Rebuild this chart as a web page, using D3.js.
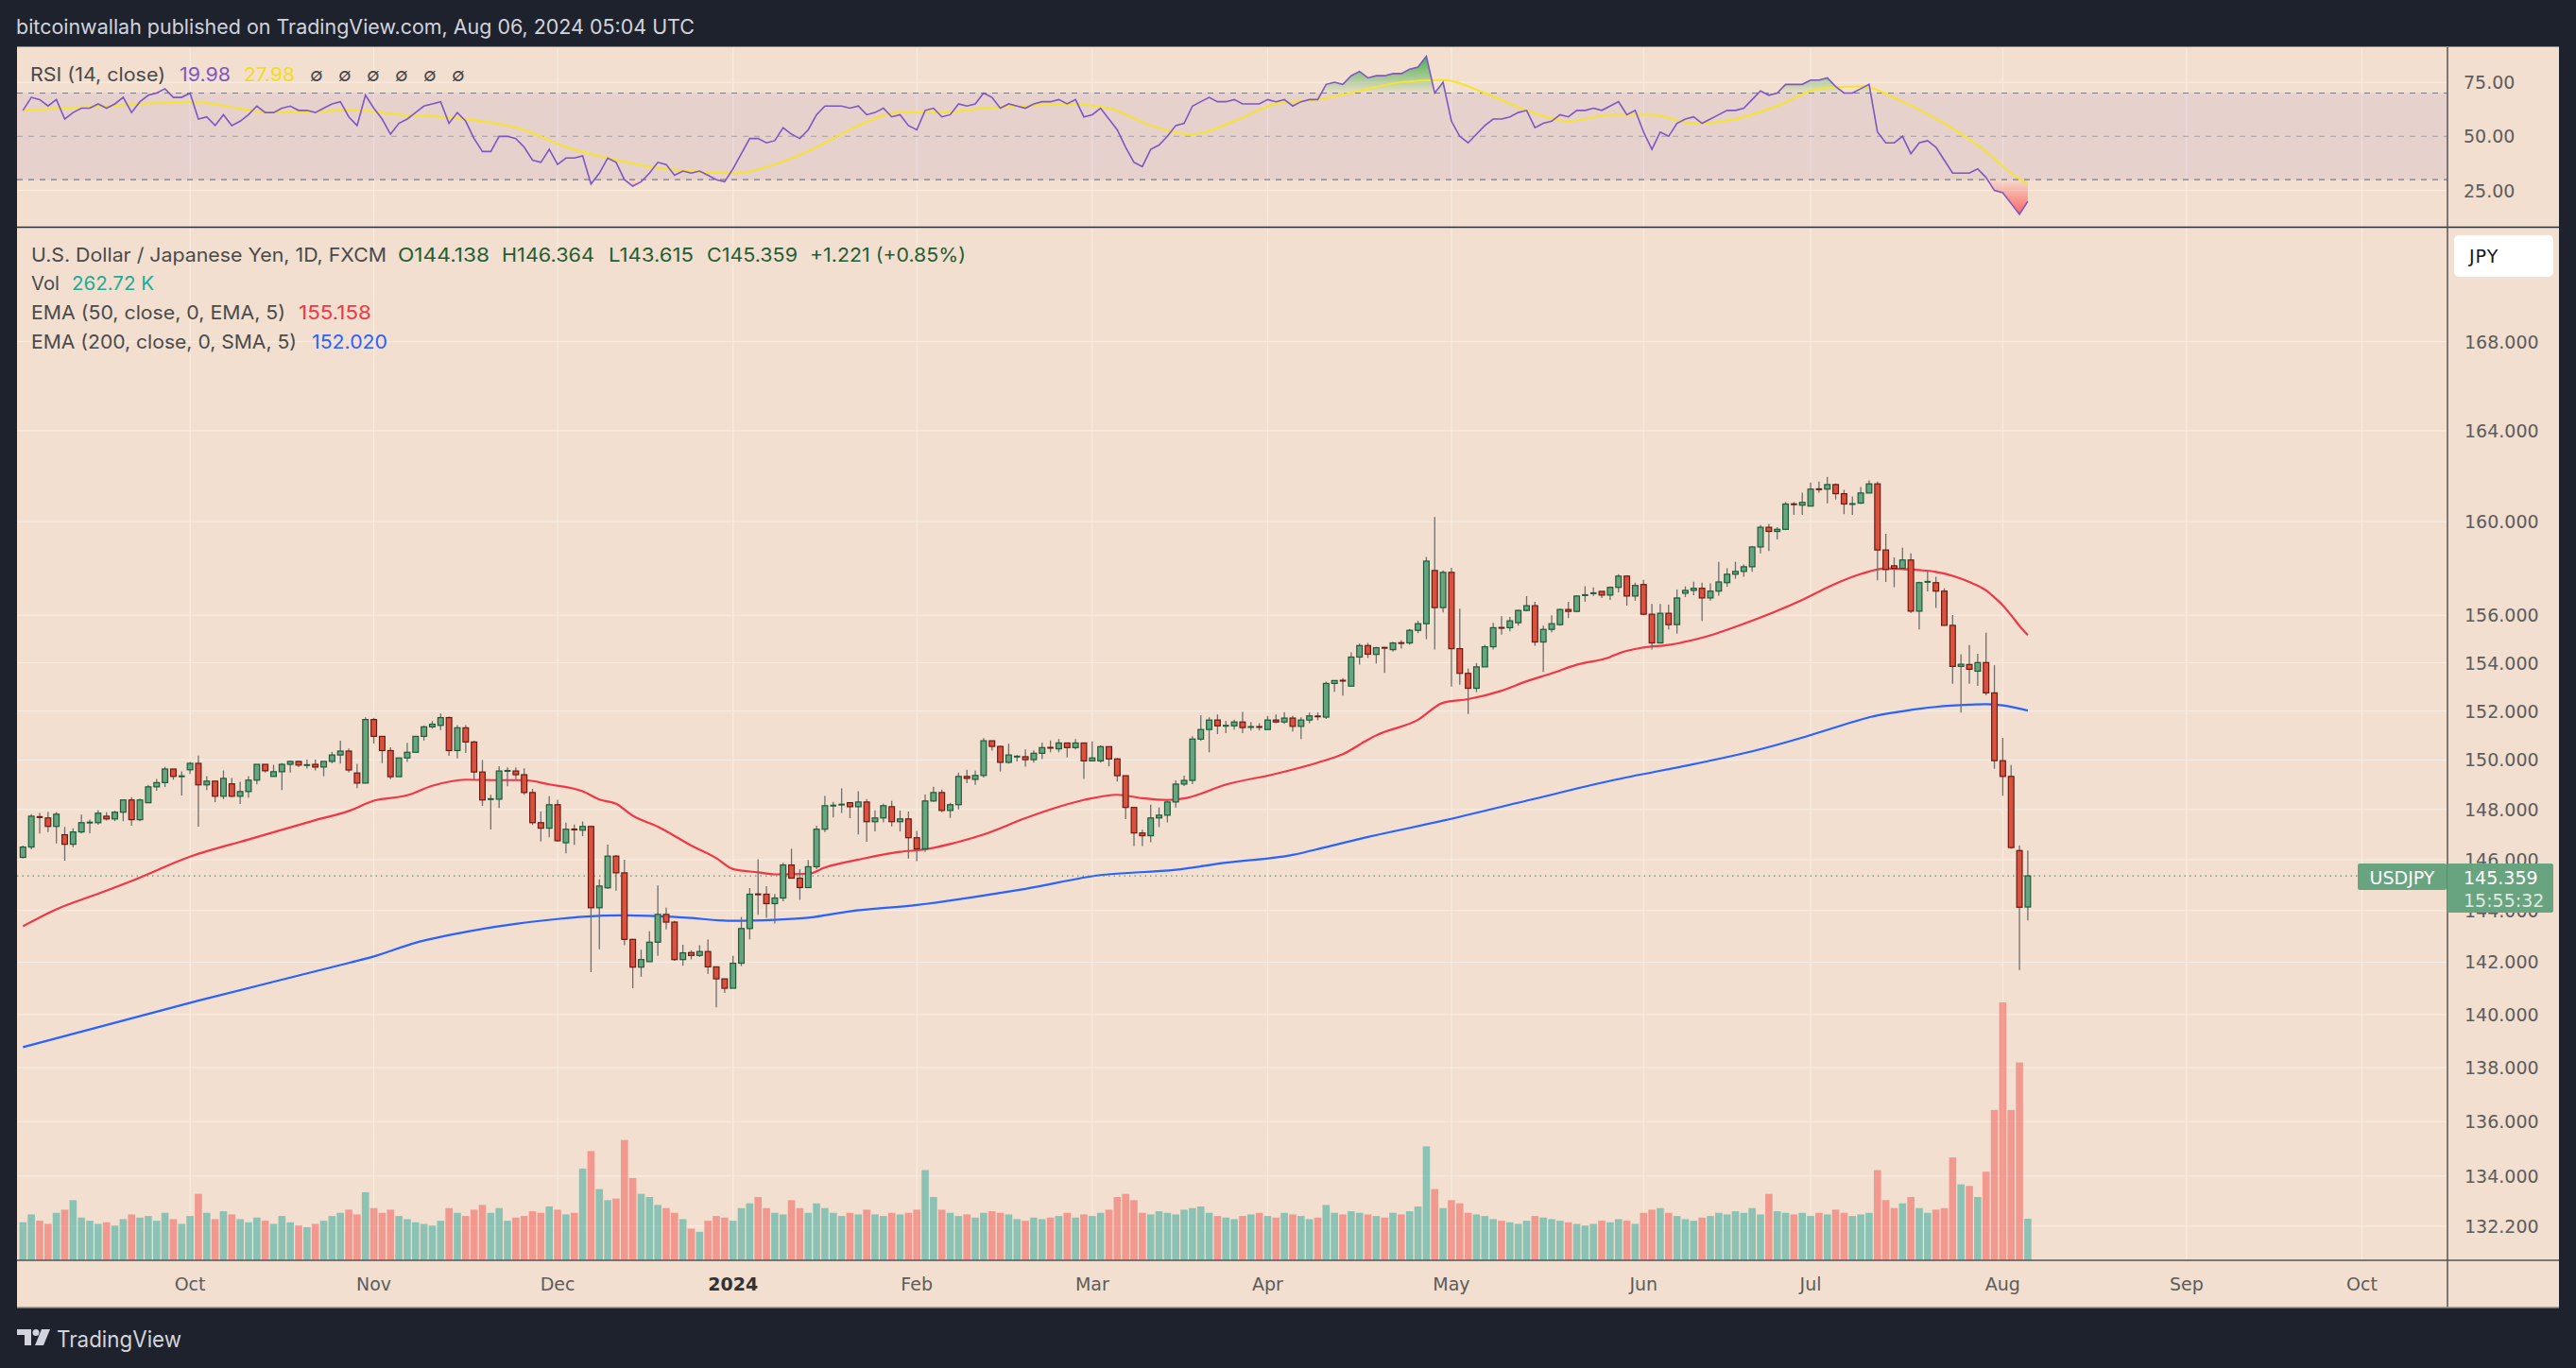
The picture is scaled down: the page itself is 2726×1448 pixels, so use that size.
<!DOCTYPE html>
<html><head><meta charset="utf-8">
<script src="https://cdn.jsdelivr.net/npm/d3@7"></script>
<style>html,body{margin:0;padding:0;background:#1e222d;}svg{display:block;}</style>
</head><body>
<svg id="chart" width="2726" height="1448"></svg>
<script>
// ---------------- DATA ----------------
const opens = [
146.09,146.50,147.73,147.66,147.32,146.99,146.61,147.10,147.47,147.47,
147.73,147.62,147.89,148.38,147.59,148.27,148.91,149.08,149.63,149.33,
149.60,149.86,148.99,149.14,148.53,149.03,148.53,148.72,149.18,149.82,
149.33,149.52,149.82,149.94,149.78,149.82,149.71,149.94,150.20,150.36,
149.47,149.06,151.65,150.96,150.38,149.32,150.08,150.31,150.96,151.35,
151.41,151.73,150.38,151.31,150.73,149.51,148.41,148.41,149.55,149.55,
149.40,148.68,147.47,147.25,148.19,146.67,147.21,147.17,147.32,144.11,
144.89,146.14,145.48,142.88,141.81,142.02,142.77,143.85,143.55,142.10,
142.37,142.26,142.41,141.82,141.36,141.00,141.96,143.30,144.64,144.64,
144.27,144.49,145.79,145.27,144.90,145.72,147.21,148.15,148.19,148.27,
148.11,148.30,147.51,147.66,148.11,147.51,147.62,146.87,146.43,148.34,
148.68,147.96,148.19,149.33,149.21,149.37,150.78,150.55,149.90,150.13,
150.13,150.01,150.27,150.50,150.45,150.69,150.50,150.69,149.96,149.96,
150.54,150.04,149.36,148.08,147.06,146.95,147.66,147.77,148.30,149.02,
149.17,150.85,151.24,151.63,151.39,151.39,151.55,151.34,151.35,151.24,
151.63,151.55,151.71,151.37,151.63,151.79,151.75,153.14,153.26,153.03,
154.24,154.72,154.35,154.63,154.55,154.83,154.83,155.36,155.64,157.90,
156.32,157.82,154.59,153.56,152.94,153.83,154.67,155.47,155.47,155.68,
156.20,156.40,154.87,155.40,155.60,156.24,156.16,156.81,156.89,157.01,
156.85,157.18,157.66,156.81,157.30,156.04,154.83,156.08,155.60,156.93,
157.05,157.14,156.73,157.02,157.38,157.74,157.86,158.06,158.91,159.76,
159.58,159.67,160.77,160.72,160.68,161.42,161.42,161.62,161.22,160.73,
160.81,161.25,161.65,158.78,158.10,157.99,158.35,156.17,157.41,157.38,
157.02,155.57,153.85,153.93,153.65,154.01,152.75,149.97,149.33,146.36,
144.138];
const highs = [
146.56,147.81,147.86,147.90,147.90,147.30,147.25,147.79,147.59,147.97,
147.89,147.94,148.38,148.49,148.44,148.99,149.23,149.72,149.63,149.53,
149.92,150.18,149.34,149.14,149.57,149.27,149.11,149.34,149.82,149.82,
149.80,149.87,149.97,149.97,150.01,150.01,149.94,150.33,150.78,150.47,
149.84,151.74,151.72,150.96,150.51,150.08,150.70,150.96,151.41,151.59,
151.90,151.77,151.42,151.42,150.78,150.00,148.59,149.74,149.70,149.70,
149.66,148.83,147.92,148.53,148.39,147.47,147.40,147.52,147.32,145.22,
146.60,146.18,146.00,142.90,142.48,143.19,144.98,144.11,143.60,142.67,
142.46,142.65,142.87,141.82,141.36,142.24,143.75,144.88,146.02,144.95,
144.65,145.88,146.43,145.62,145.99,147.35,148.54,148.30,148.85,148.30,
148.73,148.42,147.96,148.23,148.34,147.96,147.92,147.14,148.60,148.91,
148.80,148.27,149.48,149.60,149.56,150.89,150.78,150.59,150.66,150.20,
150.43,150.39,150.71,150.79,150.85,150.69,150.85,150.69,150.75,150.59,
150.54,150.08,149.36,148.08,147.19,148.19,148.08,148.38,149.17,149.36,
150.97,151.83,151.74,151.86,151.60,151.64,151.97,151.55,151.50,151.80,
151.86,151.96,151.80,151.74,151.94,151.94,153.22,153.26,153.36,154.44,
154.80,154.83,154.67,154.67,154.87,154.94,155.42,155.76,158.48,160.20,
157.90,158.02,156.28,153.76,153.99,154.75,155.68,155.96,155.93,156.24,
156.81,156.57,155.56,156.00,156.28,156.57,156.85,157.23,157.18,157.01,
157.22,157.74,157.70,157.38,157.50,156.48,156.48,156.45,157.09,157.22,
157.42,157.38,157.35,158.27,157.99,158.27,158.16,158.95,159.86,159.91,
159.76,160.86,160.86,161.26,161.71,161.75,161.96,161.67,161.39,161.10,
161.51,161.80,161.75,159.48,158.46,158.88,158.63,157.42,157.91,157.63,
157.14,156.01,154.36,154.74,154.38,155.26,153.90,150.90,149.79,146.56,
146.364];
const lows = [
146.05,146.41,147.04,147.09,146.64,145.96,146.49,147.04,147.05,147.39,
147.56,147.53,147.53,147.35,147.53,148.27,148.75,148.90,149.20,148.56,
149.43,147.31,148.78,148.29,148.41,148.49,148.22,148.48,149.01,149.49,
149.33,148.78,149.49,149.71,149.65,149.57,149.34,149.86,149.85,149.50,
148.86,149.06,150.67,149.87,149.22,149.32,149.92,150.31,150.79,151.27,
151.22,150.17,150.06,150.28,149.22,148.14,147.20,148.06,148.93,149.22,
148.59,147.38,146.72,146.89,146.72,146.25,146.59,146.93,141.62,142.50,
144.84,144.78,142.65,141.00,141.44,142.02,142.24,143.27,142.05,141.86,
142.11,142.20,141.55,140.27,140.82,141.00,141.85,142.88,143.84,143.72,
143.50,144.36,145.27,144.42,144.90,145.62,147.09,147.68,147.86,147.65,
147.00,146.71,147.12,147.48,147.32,147.12,146.04,145.94,146.31,148.30,
147.89,147.66,148.00,149.06,148.99,149.29,150.38,149.53,149.85,149.94,
149.73,149.89,150.03,150.31,150.31,150.10,150.43,149.23,149.96,149.89,
149.74,149.12,147.61,146.54,146.54,146.69,147.29,147.48,148.08,148.94,
149.02,150.77,150.31,151.05,151.09,151.24,151.09,151.20,151.20,151.24,
151.50,151.47,151.16,150.85,151.50,151.62,151.67,152.79,152.64,153.03,
153.92,154.20,153.97,153.58,154.47,154.59,154.75,155.24,154.99,154.55,
156.12,153.01,153.09,151.88,152.78,153.83,154.55,155.18,155.32,155.56,
156.16,154.71,153.62,155.28,155.56,155.88,156.12,156.57,156.81,156.73,
156.65,156.97,156.40,156.61,156.00,154.55,154.83,155.40,155.22,156.77,
156.85,155.76,156.62,156.83,157.21,157.55,157.63,157.84,158.63,158.73,
159.23,159.67,160.30,160.30,160.68,161.26,160.80,160.97,160.33,160.30,
160.77,161.25,157.48,157.41,157.19,157.99,156.10,155.40,157.01,156.31,
155.57,153.13,151.94,153.13,153.04,152.65,149.64,148.55,146.43,141.70,
143.615];
const closes = [
146.50,147.73,147.66,147.32,147.81,146.61,147.10,147.47,147.48,147.85,
147.62,147.89,148.38,147.59,148.38,148.91,149.08,149.63,149.33,149.34,
149.86,148.99,149.14,148.53,149.25,148.53,148.72,149.18,149.82,149.56,
149.52,149.82,149.94,149.79,149.80,149.71,149.94,150.20,150.36,149.59,
149.06,151.65,150.96,150.38,149.32,150.08,150.31,150.96,151.35,151.46,
151.73,150.38,151.31,150.73,149.51,148.38,148.42,149.55,149.56,149.40,
148.68,147.47,147.25,148.19,146.75,147.21,147.19,147.32,144.11,144.96,
146.14,145.48,142.88,141.81,142.10,142.77,143.85,143.55,142.10,142.36,
142.26,142.41,141.82,141.36,141.00,141.96,143.30,144.64,144.63,144.27,
144.49,145.79,145.27,144.90,145.72,147.21,148.15,148.16,148.20,148.11,
148.30,147.51,147.66,148.15,147.51,147.62,146.87,146.43,148.34,148.68,
147.96,148.19,149.33,149.25,149.37,150.78,150.55,149.90,150.20,150.14,
150.01,150.27,150.50,150.49,150.69,150.50,150.69,149.96,150.08,150.54,
150.04,149.36,148.08,147.06,146.95,147.66,147.77,148.30,149.02,149.17,
150.85,151.24,151.63,151.39,151.40,151.55,151.32,151.35,151.34,151.63,
151.55,151.71,151.37,151.63,151.80,151.77,153.14,153.26,153.25,154.24,
154.72,154.36,154.63,154.62,154.83,154.82,155.36,155.64,158.30,156.32,
157.82,154.59,153.56,152.94,153.83,154.67,155.47,155.46,155.76,156.20,
156.40,154.87,155.40,155.64,156.24,156.16,156.81,156.89,156.97,156.85,
157.18,157.66,156.81,157.26,156.04,154.83,156.08,155.60,156.73,157.05,
157.14,156.73,157.02,157.41,157.74,157.86,158.06,158.91,159.76,159.58,
159.67,160.77,160.75,160.84,161.42,161.41,161.62,161.22,160.77,160.81,
161.25,161.65,158.78,157.94,157.99,158.35,156.17,157.38,157.42,157.02,
155.57,153.85,153.94,153.73,154.01,152.75,149.97,149.33,146.48,144.13,
145.359];
// volume in thousands
const volumes = [
240,290,250,230,300,320,380,270,250,230,
240,220,260,290,270,280,250,300,260,230,
280,420,300,260,310,290,260,240,270,250,
230,280,240,220,210,230,250,280,300,320,
290,430,330,300,320,280,260,240,230,220,
250,330,300,280,320,350,300,330,250,270,
280,310,300,340,320,290,300,580,690,450,
380,390,760,520,420,400,350,330,300,260,
200,180,250,280,270,250,330,360,400,330,
300,290,380,330,300,360,330,300,280,300,
290,320,290,280,300,290,300,320,570,400,
320,300,280,290,270,300,310,300,290,260,
250,270,260,270,280,300,270,290,280,300,
320,400,420,380,300,290,310,300,290,320,
330,340,300,280,270,260,280,290,300,280,
270,300,290,280,260,270,350,300,290,310,
300,290,280,270,300,290,310,340,720,450,
330,380,360,300,290,280,260,250,240,230,
250,280,270,260,250,240,230,220,230,250,
240,260,250,230,300,320,330,300,280,260,
250,270,280,300,290,310,300,330,290,420,
310,300,290,300,280,300,290,320,300,280,
290,300,570,380,330,360,400,330,300,320,
330,650,480,470,400,560,950,1630,950,1250,
262.72];
// EMA lines sampled at bar indices
const ema50Idx = [0,4,9,13,20,27,35,39,42,46,49,53,57,60,63,67,69,71,73,76,80,83,85,88,90,94,96,100,105,108,111,115,120,123,127,131,134,137,139,144,150,155,158,161,162,167,170,173,177,180,183,186,190,191,194,197,201,206,213,217,220,223,225,229,233,235,236,237,238,239,240];
const ema50Val = [143.39,144.05,144.66,145.16,146.12,146.80,147.57,147.94,148.35,148.57,148.95,149.20,149.18,149.18,149.01,148.73,148.40,148.23,147.75,147.31,146.56,146.06,145.63,145.50,145.42,145.44,145.69,146.00,146.31,146.41,146.62,147.00,147.65,148.00,148.38,148.59,148.45,148.38,148.44,149.00,149.44,149.89,150.23,150.82,151.00,151.64,152.34,152.49,152.84,153.23,153.56,153.92,154.24,154.39,154.64,154.75,155.05,155.64,156.65,157.34,157.75,157.99,157.96,157.84,157.41,157.05,156.75,156.42,156.00,155.55,155.158];
const ema200Idx = [0,21,39,42,47,53,59,64,67,72,79,85,90,94,99,107,115,120,129,138,144,152,156,161,170,180,190,201,207,213,218,221,225,229,233,235,237,240];
const ema200Val = [138.77,140.53,141.97,142.22,142.75,143.17,143.48,143.67,143.76,143.81,143.73,143.60,143.64,143.72,143.97,144.22,144.59,144.85,145.39,145.60,145.88,146.19,146.50,146.90,147.55,148.35,149.15,149.90,150.35,150.91,151.44,151.74,151.99,152.17,152.26,152.28,152.23,152.020];
// RSI (14), one value per bar
const rsiVal = [
62,68,67,64,67,58,61,63,63,65,
63,65,68,61,66,69,70,72,68,68,
70,58,59,55,60,55,57,60,64,61,
61,63,64,62,62,61,63,65,66,59,
55,69,63,58,51,56,58,61,64,65,
66,56,61,57,49,43,43,50,50,49,
45,39,38,44,37,40,40,41,28,33,
40,38,30,27,29,33,38,37,32,34,
33,34,32,30,29,35,42,49,49,47,
48,54,51,49,53,60,64,64,64,63,
64,60,61,63,59,60,55,53,62,63,
59,60,65,64,65,70,68,63,65,64,
63,65,66,66,67,65,67,59,60,63,
58,53,45,38,36,44,46,50,55,56,
64,66,68,66,66,67,65,65,65,67,
66,67,64,66,67,67,74,75,74,78,
80,77,78,78,79,79,81,82,87,70,
75,57,50,47,51,55,58,58,59,61,
62,54,56,57,60,59,62,62,63,62,
64,66,60,62,52,44,52,50,56,58,
59,56,58,60,62,62,63,67,71,69,
70,74,74,74,76,76,77,73,70,70,
72,74,52,47,47,50,42,47,48,45,
39,33,33,33,35,31,25,24,19,14,
19.98];
// RSI-based moving average, sampled at bar indices
const rsiMaIdx = [0,10,20,30,40,45,50,55,60,65,70,75,80,85,90,95,100,105,110,115,120,125,130,135,140,145,150,155,160,165,170,175,180,185,190,195,200,205,210,215,220,225,230,235,238,240];
const rsiMaVal = [62,64,66,61,62,60,59,57,53,45,40,36,34,33,37,45,55,61,61,63,64,65,63,55,51,57,65,67,71,75,76,70,62,57,60,60,56,58,64,72,73,66,56,43,33,27.98];
const priceTicks = [168,164,160,156,154,152,150,148,146,144,142,140,138,136,134,132.2];
const rsiTicks = [75,50,25];
const rsiLevels = [70,50,30];
const monthNames = ["Jan","Feb","Mar","Apr","May","Jun","Jul","Aug","Sep","Oct","Nov","Dec"];
const holidays = ["2024-01-01"];
const lastPrice = 145.359;

// ---------------- LAYOUT ----------------
const W = 2726, H = 1448;
const paneL = 18, paneR = 2590, axisR = 2708, paneTop = 49, rsiBottom = 240,
      priceTop = 241, priceBottom = 1334, timeBottom = 1384;
const n = closes.length;

const svg = d3.select("#chart");
svg.append("rect").attr("width", W).attr("height", H).attr("fill", "#1e222d");
svg.append("rect").attr("x", paneL).attr("y", paneTop).attr("width", axisR - paneL)
   .attr("height", timeBottom - paneTop).attr("fill", "#f2dfcf");

const days = [];
{
  let d = new Date(Date.UTC(2023, 8, 4));
  while (days.length < 300) {
    const wd = d.getUTCDay(), iso = d.toISOString().slice(0, 10);
    if (wd !== 0 && wd !== 6 && !holidays.includes(iso)) days.push(new Date(d));
    d.setUTCDate(d.getUTCDate() + 1);
  }
}
const x = d3.scaleLinear().domain([0, 240]).range([24.3, 24.3 + 8.84 * 240]);
const y = d3.scaleLog().domain([130.98, 173.27]).range([priceBottom, priceTop]);
const yr = d3.scaleLinear().domain([8.25, 91.6]).range([rsiBottom, paneTop]);
const yv = d3.scaleLinear().domain([0, 1000]).range([priceBottom, priceBottom - 167.5]);

const monthTicks = [];
for (let i = 1; i < days.length; i++) {
  if (days[i].getUTCMonth() !== days[i - 1].getUTCMonth() && days[i] >= new Date(Date.UTC(2023, 9, 1)) && x(i) < paneR - 20) {
    const m = days[i].getUTCMonth();
    monthTicks.push({ i, label: m === 0 ? String(days[i].getUTCFullYear()) : monthNames[m], bold: m === 0 });
  }
}

const defs = svg.append("defs");
defs.append("clipPath").attr("id", "rsiClip").append("rect")
  .attr("x", paneL).attr("y", paneTop).attr("width", paneR - paneL).attr("height", rsiBottom - paneTop);
defs.append("clipPath").attr("id", "priceClip").append("rect")
  .attr("x", paneL).attr("y", priceTop).attr("width", paneR - paneL).attr("height", priceBottom - priceTop);
defs.append("clipPath").attr("id", "obClip").append("rect")
  .attr("x", paneL).attr("y", paneTop).attr("width", paneR - paneL).attr("height", yr(70) - paneTop);
defs.append("clipPath").attr("id", "osClip").append("rect")
  .attr("x", paneL).attr("y", yr(30)).attr("width", paneR - paneL).attr("height", rsiBottom - yr(30));
const gOB = defs.append("linearGradient").attr("id", "gOB").attr("gradientUnits", "userSpaceOnUse")
  .attr("x1", 0).attr("x2", 0).attr("y1", yr(85)).attr("y2", yr(70));
gOB.append("stop").attr("offset", 0).attr("stop-color", "rgb(76,175,80)").attr("stop-opacity", 0.9);
gOB.append("stop").attr("offset", 1).attr("stop-color", "rgb(76,175,80)").attr("stop-opacity", 0.05);
const gOS = defs.append("linearGradient").attr("id", "gOS").attr("gradientUnits", "userSpaceOnUse")
  .attr("x1", 0).attr("x2", 0).attr("y1", yr(30)).attr("y2", yr(12));
gOS.append("stop").attr("offset", 0).attr("stop-color", "rgb(255,82,82)").attr("stop-opacity", 0.05);
gOS.append("stop").attr("offset", 1).attr("stop-color", "rgb(255,82,82)").attr("stop-opacity", 0.95);

const gridColor = "#f7ece3";
const grid = svg.append("g");
monthTicks.forEach(t => {
  grid.append("line").attr("x1", x(t.i)).attr("x2", x(t.i)).attr("y1", paneTop).attr("y2", priceBottom)
    .attr("stroke", gridColor).attr("stroke-width", 1.2);
});
priceTicks.forEach(p => {
  grid.append("line").attr("x1", paneL).attr("x2", paneR).attr("y1", y(p)).attr("y2", y(p))
    .attr("stroke", gridColor).attr("stroke-width", 1.2);
});
rsiTicks.filter(v => v !== 50).forEach(v => {
  grid.append("line").attr("x1", paneL).attr("x2", paneR).attr("y1", yr(v)).attr("y2", yr(v))
    .attr("stroke", gridColor).attr("stroke-width", 1.2);
});

// ---------------- RSI pane ----------------
const rsiG = svg.append("g").attr("clip-path", "url(#rsiClip)");
rsiG.append("rect").attr("x", paneL).attr("width", paneR - paneL).attr("y", yr(70)).attr("height", yr(30) - yr(70))
  .attr("fill", "rgba(126,87,194,0.1)");
rsiLevels.forEach(v => {
  rsiG.append("line").attr("x1", paneL).attr("x2", paneR).attr("y1", yr(v)).attr("y2", yr(v))
    .attr("stroke", v === 50 ? "rgba(120,123,134,0.45)" : "#787b86").attr("stroke-width", 1.2)
    .attr("stroke-dasharray", "6,6");
});
const rsiPts = rsiVal.map((v, k) => [k, v]);
rsiG.append("path").datum(rsiPts).attr("clip-path", "url(#obClip)").attr("fill", "url(#gOB)")
  .attr("d", d3.area().x(d => x(d[0])).y0(yr(70)).y1(d => yr(d[1])));
rsiG.append("path").datum(rsiPts).attr("clip-path", "url(#osClip)").attr("fill", "url(#gOS)")
  .attr("d", d3.area().x(d => x(d[0])).y0(yr(30)).y1(d => yr(d[1])));
const rsiMaPts = rsiMaIdx.map((k, j) => [k, rsiMaVal[j]]);
rsiG.append("path").datum(rsiMaPts).attr("fill", "none").attr("stroke", "#f5e52c").attr("stroke-width", 2)
  .attr("d", d3.line().x(d => x(d[0])).y(d => yr(d[1])).curve(d3.curveMonotoneX));
rsiG.append("path").datum(rsiPts).attr("fill", "none").attr("stroke", "#7e57c2").attr("stroke-width", 1.6)
  .attr("d", d3.line().x(d => x(d[0])).y(d => yr(d[1])));

// ---------------- Price pane ----------------
const pG = svg.append("g").attr("clip-path", "url(#priceClip)");
const bars = d3.range(n);
pG.append("g").selectAll("rect").data(bars).join("rect")
  .attr("x", i => x(i) - 3.8).attr("width", 7.6)
  .attr("y", i => yv(volumes[i])).attr("height", i => priceBottom - yv(volumes[i]))
  .attr("fill", i => closes[i] >= opens[i] ? "rgba(38,166,154,0.5)" : "rgba(239,83,80,0.5)");
const e200 = ema200Idx.map((k, j) => [k, ema200Val[j]]);
const e50 = ema50Idx.map((k, j) => [k, ema50Val[j]]);
const lineGen = d3.line().x(d => x(d[0])).y(d => y(d[1])).curve(d3.curveMonotoneX);
pG.append("path").datum(e200).attr("fill", "none").attr("stroke", "#2962ff").attr("stroke-width", 2.2).attr("d", lineGen);
pG.append("path").datum(e50).attr("fill", "none").attr("stroke", "#f23645").attr("stroke-width", 2.2).attr("d", lineGen);
pG.append("line").attr("x1", paneL).attr("x2", paneR).attr("y1", y(lastPrice)).attr("y2", y(lastPrice))
  .attr("stroke", "#4f9e6e").attr("stroke-width", 1.3).attr("stroke-dasharray", "1.5,4");
const cg = pG.append("g");
bars.forEach(i => {
  const o = opens[i], c = closes[i], up = c >= o;
  const hi = Math.max(highs[i], o, c), lo = Math.min(lows[i], o, c);
  cg.append("line").attr("x1", x(i)).attr("x2", x(i)).attr("y1", y(hi)).attr("y2", y(lo))
    .attr("stroke", "#6e6e6e").attr("stroke-width", 1.3);
  const top = y(Math.max(o, c)), bot = y(Math.min(o, c));
  const h = bot - top;
  if (h < 2) {
    cg.append("rect").attr("x", x(i) - 3.3).attr("width", 6.6).attr("y", (top + bot) / 2 - 1).attr("height", 2)
      .attr("fill", up ? "#1d5b38" : "#6e1a12");
  } else {
    cg.append("rect").attr("x", x(i) - 2.9).attr("width", 5.8).attr("y", top).attr("height", h)
      .attr("fill", up ? "#66a57f" : "#d9523f").attr("stroke", up ? "#1d5b38" : "#6e1a12").attr("stroke-width", 1.2);
  }
});

// ---------------- Frame lines ----------------
const frame = svg.append("g").attr("fill", "none");
frame.append("line").attr("x1", paneL).attr("x2", axisR).attr("y1", 240.5).attr("y2", 240.5).attr("stroke", "#2b2f3a").attr("stroke-width", 1.6);
frame.append("line").attr("x1", paneL).attr("x2", axisR).attr("y1", priceBottom).attr("y2", priceBottom).attr("stroke", "#555").attr("stroke-width", 1.5);
frame.append("line").attr("x1", paneR).attr("x2", paneR).attr("y1", paneTop).attr("y2", timeBottom).attr("stroke", "#555").attr("stroke-width", 1.5);
frame.append("line").attr("x1", paneL).attr("x2", axisR).attr("y1", paneTop + 0.5).attr("y2", paneTop + 0.5).attr("stroke", "#8d8d8d").attr("stroke-width", 1);
frame.append("line").attr("x1", paneL).attr("x2", axisR).attr("y1", timeBottom).attr("y2", timeBottom).attr("stroke", "#8d8d8d").attr("stroke-width", 1.5);

// ---------------- Axes text ----------------
const axisFont = "'DejaVu Sans', sans-serif";
const ax = svg.append("g").attr("font-family", axisFont).attr("font-size", 19).attr("fill", "#5c5c5c");
priceTicks.forEach(p => {
  ax.append("text").attr("x", 2608).attr("y", y(p) + 7).text(p.toFixed(3));
});
rsiTicks.forEach(v => {
  ax.append("text").attr("x", 2607).attr("y", yr(v) + 7).text(v.toFixed(2));
});
monthTicks.forEach(t => {
  ax.append("text").attr("x", x(t.i)).attr("y", 1366).attr("text-anchor", "middle")
    .attr("font-weight", t.bold ? "bold" : "normal").attr("fill", t.bold ? "#333" : "#5c5c5c").text(t.label);
});

svg.append("rect").attr("x", 2597).attr("y", 249).attr("width", 105).attr("height", 44).attr("rx", 5).attr("fill", "#ffffff");
svg.append("text").attr("x", 2613).attr("y", 278).attr("font-family", axisFont).attr("font-size", 19)
  .attr("letter-spacing", 1).attr("fill", "#131722").text("JPY");

svg.append("rect").attr("x", 2590).attr("y", 914).attr("width", 112).attr("height", 52).attr("rx", 2).attr("fill", "#68a47f");
svg.append("text").attr("x", 2607).attr("y", 936).attr("font-family", axisFont).attr("font-size", 19).attr("fill", "#fff").text(lastPrice.toFixed(3));
svg.append("text").attr("x", 2607).attr("y", 960).attr("font-family", axisFont).attr("font-size", 19).attr("fill", "rgba(255,255,255,0.8)").text("15:55:32");
svg.append("rect").attr("x", 2495).attr("y", 914).attr("width", 94).attr("height", 28).attr("rx", 2).attr("fill", "#68a47f");
svg.append("text").attr("x", 2542).attr("y", 936).attr("text-anchor", "middle").attr("font-family", axisFont).attr("font-size", 19).attr("fill", "#fff").text("USDJPY");

// ---------------- Legends ----------------
const lf = "Inter, Roboto, sans-serif";
svg.append("text").attr("x", 17).attr("y", 36).attr("font-family", lf).attr("font-size", 21).attr("fill", "#d1d4dc")
  .attr("textLength", 718).attr("lengthAdjust", "spacingAndGlyphs")
  .text("bitcoinwallah published on TradingView.com, Aug 06, 2024 05:04 UTC");

function legendRow(yb, parts) {
  parts.forEach(p => {
    const t = svg.append("text").attr("x", p.x).attr("y", yb).attr("font-family", lf).attr("font-size", 20)
      .attr("fill", p.c).text(p.t);
    if (p.w) t.attr("textLength", p.w).attr("lengthAdjust", "spacingAndGlyphs");
  });
}
legendRow(86, [
  { x: 32, t: "RSI (14, close)", c: "#4a4a4a", w: 143 },
  { x: 190, t: "19.98", c: "#7e57c2", w: 54 },
  { x: 258, t: "27.98", c: "#f2dc22", w: 54 },
  { x: 328, t: "∅", c: "#4a4a4a" }, { x: 358, t: "∅", c: "#4a4a4a" }, { x: 388, t: "∅", c: "#4a4a4a" },
  { x: 418, t: "∅", c: "#4a4a4a" }, { x: 448, t: "∅", c: "#4a4a4a" }, { x: 478, t: "∅", c: "#4a4a4a" }
]);
legendRow(277, [
  { x: 33, t: "U.S. Dollar / Japanese Yen, 1D, FXCM", c: "#4a4a4a", w: 376 },
  { x: 421, t: "O144.138", c: "#1f5e33", w: 97 },
  { x: 531, t: "H146.364", c: "#1f5e33", w: 98 },
  { x: 644, t: "L143.615", c: "#1f5e33", w: 90 },
  { x: 748, t: "C145.359", c: "#1f5e33", w: 96 },
  { x: 857, t: "+1.221 (+0.85%)", c: "#1f5e33", w: 165 }
]);
legendRow(307, [
  { x: 33, t: "Vol", c: "#4a4a4a", w: 30 },
  { x: 76, t: "262.72 K", c: "#22ab94", w: 87 }
]);
legendRow(338, [
  { x: 33, t: "EMA (50, close, 0, EMA, 5)", c: "#4a4a4a", w: 269 },
  { x: 316, t: "155.158", c: "#f23645", w: 77 }
]);
legendRow(369, [
  { x: 33, t: "EMA (200, close, 0, SMA, 5)", c: "#4a4a4a", w: 281 },
  { x: 330, t: "152.020", c: "#2962ff", w: 80 }
]);

// ---------------- TradingView logo ----------------
const logo = svg.append("g").attr("fill", "#d1d4dc");
logo.append("path").attr("d", "M18 1407 H33 V1424 H26 V1413 H18 Z");
logo.append("circle").attr("cx", 38).attr("cy", 1410.5).attr("r", 3.5);
logo.append("path").attr("d", "M44 1407 H53 L46 1424 H37 Z");
svg.append("text").attr("x", 60).attr("y", 1426).attr("font-family", lf).attr("font-size", 24)
  .attr("fill", "#d1d4dc").attr("textLength", 132).attr("lengthAdjust", "spacingAndGlyphs").text("TradingView");
</script>
</body></html>
